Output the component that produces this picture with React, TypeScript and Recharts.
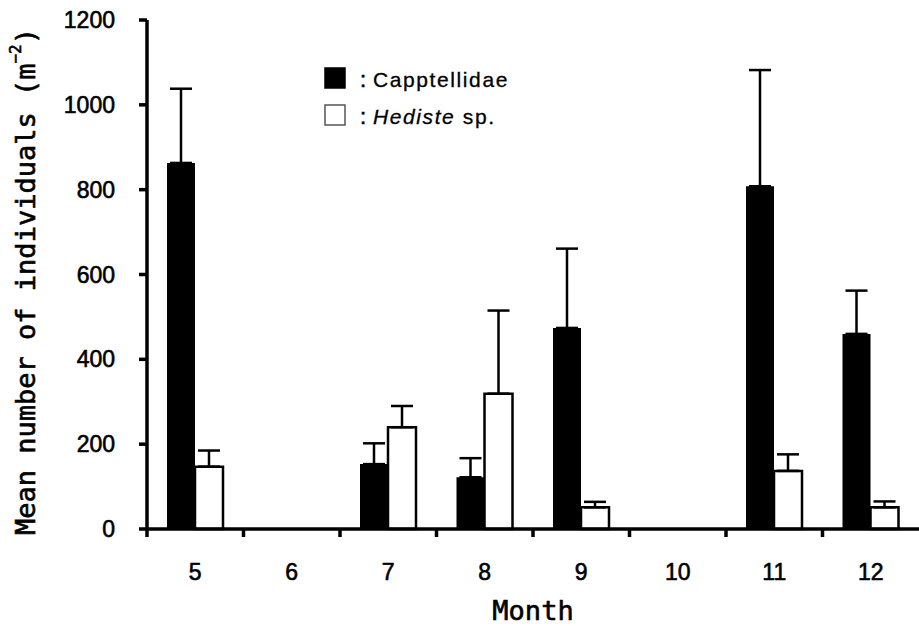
import React from 'react';
import { BarChart, Bar, XAxis, YAxis, ErrorBar, Legend } from 'recharts';

const months = ['5', '6', '7', '8', '9', '10', '11', '12'];
const capptellidaeMean = [863, null, 153, 122, 474, null, 808, 460];
const capptellidaeErr = [175, null, 49, 45, 187, null, 274, 102];
const hedisteMean = [147, null, 240, 319, 51, null, 137, 51];
const hedisteErr = [38, null, 50, 196, 13, null, 39, 14];
const yTicks = [0, 200, 400, 600, 800, 1000, 1200];
const seriesLabels = [
  { italic: '', rest: 'Capptellidae', fill: '#000' },
  { italic: 'Hediste', rest: ' sp.', fill: '#fff' },
];

const data = months.map((m, i) => ({
  month: m,
  cap: capptellidaeMean[i],
  capErr: capptellidaeErr[i] == null ? null : [0, capptellidaeErr[i]],
  hed: hedisteMean[i],
  hedErr: hedisteErr[i] == null ? null : [0, hedisteErr[i]],
}));

const SANS = '"Liberation Sans", Arial, sans-serif';
const MONO = '"DejaVu Sans Mono", monospace';

const MonthTick = (props: any) => {
  const { x, y, payload, width, visibleTicksCount } = props;
  const w = typeof width === 'number' ? width : 772;
  const n = visibleTicksCount || months.length;
  const band = w / n;
  const bx = x - band / 2;
  return (
    <g>
      <line x1={bx} x2={bx} y1={y} y2={y + 8} stroke="#000" strokeWidth={3.5} />
      <text
        x={x}
        y={y + 51}
        textAnchor="middle"
        fontFamily={SANS}
        fontSize={23}
        fill="#000"
        stroke="#000"
        strokeWidth={0.6}
      >
        {payload.value}
      </text>
    </g>
  );
};

const YTick = (props: any) => {
  const { x, y, payload } = props;
  return (
    <text
      x={x}
      y={y}
      dy="0.355em"
      textAnchor="end"
      fontFamily={SANS}
      fontSize={23}
      fill="#000"
      stroke="#000"
      strokeWidth={0.6}
    >
      {payload.value}
    </text>
  );
};

const YLabel = (props: any) => {
  const vb = props.viewBox || { y: 20, height: 509 };
  const cx = 25;
  const cy = vb.y + vb.height / 2 + 7;
  return (
    <text
      transform={`rotate(-90, ${cx}, ${cy})`}
      x={cx}
      y={cy}
      textAnchor="middle"
      dominantBaseline="central"
      fontFamily={MONO}
      fontSize={27}
      fill="#000"
      stroke="#000"
      strokeWidth={0.6}
    >
      Mean number of individuals (m
      <tspan fontSize={16} dy={-10}>−2</tspan>
      <tspan dy={10}>)</tspan>
    </text>
  );
};

const XLabel = (props: any) => {
  const vb = props.viewBox || { x: 147, width: 772, y: 529 };
  return (
    <text
      x={vb.x + vb.width / 2}
      y={620}
      textAnchor="middle"
      fontFamily={MONO}
      fontSize={27}
      fill="#000"
      stroke="#000"
      strokeWidth={0.6}
    >
      Month
    </text>
  );
};

const LegendContent = () => (
  <svg width={230} height={70} style={{ display: 'block' }}>
    {seriesLabels.map((s, i) => {
      const top = 4 + i * 37;
      return (
        <g key={i}>
          <rect
            x={2}
            y={top}
            width={20}
            height={20}
            fill={s.fill}
            stroke={s.fill === '#fff' ? '#555' : '#000'}
            strokeWidth={1.5}
          />
          <text
            x={40}
            y={top + 19}
            textAnchor="middle"
            fontFamily={SANS}
            fontSize={22}
            fill="#000"
            stroke="#000"
            strokeWidth={0.6}
          >
            :
          </text>
          <text
            x={50}
            y={top + 19}
            fontFamily={SANS}
            fontSize={21}
            letterSpacing={1.6}
            fill="#000"
            stroke="#000"
            strokeWidth={0.3}
          >
            {s.italic ? <tspan fontStyle="italic">{s.italic}</tspan> : null}
            <tspan>{s.rest}</tspan>
          </text>
        </g>
      );
    })}
  </svg>
);

export default function App() {
  return (
    <div style={{ position: 'absolute', left: 0, top: 0, background: '#fff' }}>
      <BarChart
        width={919}
        height={626}
        data={data}
        margin={{ top: 20, right: 0, bottom: 0, left: 0 }}
        barGap={0}
        barSize={28}
      >
        <XAxis
          dataKey="month"
          height={97}
          axisLine={{ stroke: '#000', strokeWidth: 3.5 }}
          tickLine={false}
          tickSize={0}
          tickMargin={0}
          interval={0}
          tick={<MonthTick />}
          label={{ content: <XLabel /> }}
        />
        <YAxis
          width={147}
          domain={[0, 1200]}
          ticks={yTicks}
          interval={0}
          axisLine={{ stroke: '#000', strokeWidth: 3.5 }}
          tickLine={{ stroke: '#000', strokeWidth: 3.5 }}
          tickSize={8}
          tickMargin={24}
          tick={<YTick />}
          label={{ content: <YLabel /> }}
        />
        <Legend
          layout="vertical"
          align="center"
          verticalAlign="middle"
          wrapperStyle={{ left: 323, top: 64, width: 230, height: 70 }}
          content={<LegendContent />}
        />
        <Bar dataKey="cap" fill="#000" isAnimationActive={false}>
          <ErrorBar dataKey="capErr" width={11} stroke="#000" strokeWidth={2.5} direction="y" />
        </Bar>
        <Bar dataKey="hed" fill="#fff" stroke="#000" strokeWidth={2.5} isAnimationActive={false}>
          <ErrorBar dataKey="hedErr" width={11} stroke="#000" strokeWidth={2.5} direction="y" />
        </Bar>
      </BarChart>
    </div>
  );
}
